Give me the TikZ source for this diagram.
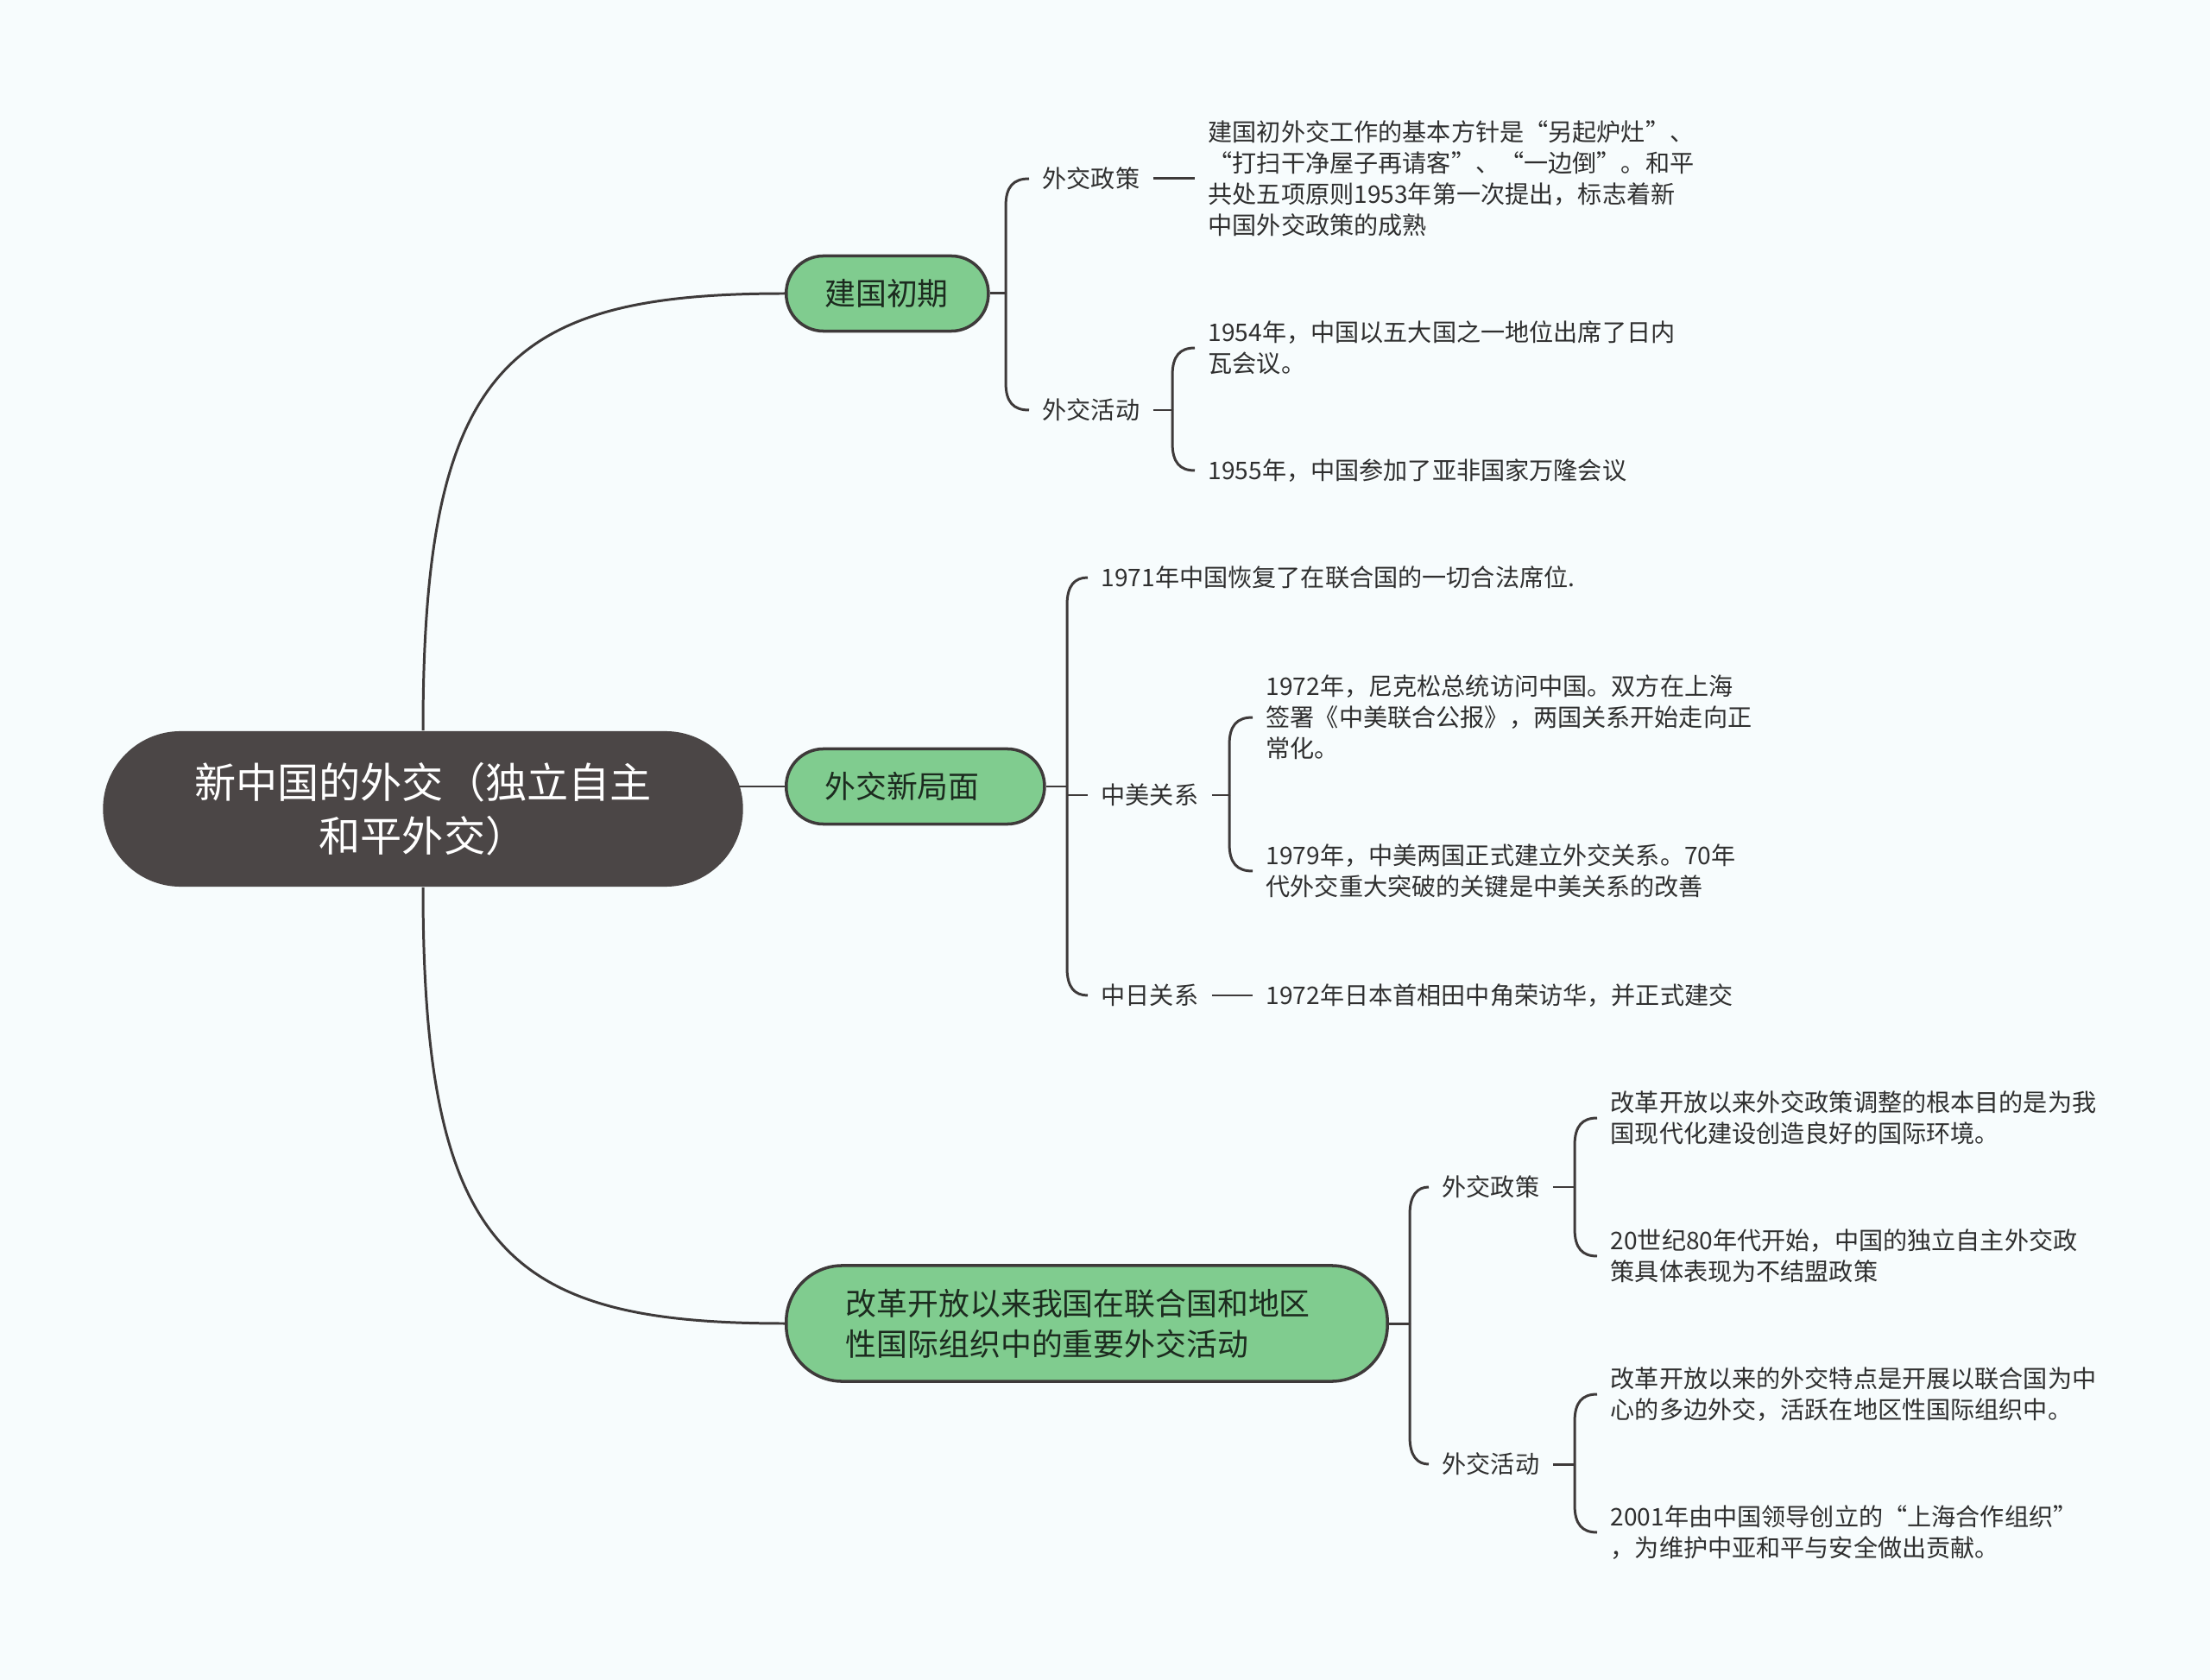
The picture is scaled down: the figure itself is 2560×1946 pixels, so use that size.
\documentclass[tikz,border=0pt]{standalone}
\usepackage{fontspec}
\setmainfont{Noto Sans CJK SC}
\usepackage{xcolor}
\definecolor{paper}{HTML}{F7FCFD}
\definecolor{rootfill}{HTML}{4B4646}
\definecolor{topicfill}{HTML}{80CC8F}
\definecolor{linegray}{HTML}{3E3A3A}
\definecolor{inktext}{HTML}{2F2F2F}
\definecolor{topictext}{HTML}{1C2B1F}
\usetikzlibrary{calc,positioning}

\begin{document}
\begin{tikzpicture}[
		x=0.01cm, y=0.01cm,
		link/.style={draw=linegray, line width=0.85pt},
		rootbox/.style={fill=rootfill, text=white, rounded corners=0.9cm, minimum width=7.41cm, minimum height=1.8cm, align=center, inner sep=0pt, font=\fontsize{13.7}{17.6}\selectfont},
		topic/.style={draw=linegray, line width=1pt, fill=topicfill, text=topictext, anchor=west, align=left, inner xsep=0.445cm, inner ysep=0pt, rounded corners=0.43cm, minimum height=0.87cm, font=\fontsize{10.2}{13.4}\selectfont},
		branch/.style={anchor=west, inner xsep=0.15cm, inner ysep=0pt, text=inktext, font=\fontsize{8}{10.2}\selectfont},
		leaf/.style={branch, align=left}
	]
		% Page
		\fill[paper] (0,0) rectangle (2560,-1946);
		\useasboundingbox (0,0) rectangle (2560,-1946);

		% Root
		\node[rootbox] (r) at (490,-937) {新中国的外交（独立自主\\和平外交）};

		% Main topics
		\node[topic, text width=1.45cm] (n1) at (909,-340) {建国初期};
		\node[topic, text width=2.10cm] (n2) at (909,-911) {外交新局面};
		\node[topic, text width=5.58cm, inner xsep=0.69cm, minimum height=1.34cm, rounded corners=0.65cm] (n3) at (909,-1533) {改革开放以来我国在联合国和地区\\性国际组织中的重要外交活动};

		% Sub topics
		\node[branch] (a1) at (1192,-207) {外交政策};
		\node[branch] (a2) at (1192,-475) {外交活动};
		\node[branch] (b1) at (1260,-669) {1971年中国恢复了在联合国的一切合法席位.};
		\node[branch] (b2) at (1260,-921) {中美关系};
		\node[branch] (b3) at (1260,-1153) {中日关系};
		\node[branch] (c1) at (1655,-1375) {外交政策};
		\node[branch] (c2) at (1655,-1696) {外交活动};

		% Details
		\node[leaf] (p1) at (1384,-207) {建国初外交工作的基本方针是“另起炉灶”、\\“打扫干净屋子再请客”、“一边倒”。和平\\共处五项原则1953年第一次提出，标志着新\\中国外交政策的成熟};
		\node[leaf] (q1) at (1384,-403) {1954年，中国以五大国之一地位出席了日内\\瓦会议。};
		\node[leaf] (q2) at (1384,-545) {1955年，中国参加了亚非国家万隆会议};
		\node[leaf] (s1) at (1451,-831) {1972年，尼克松总统访问中国。双方在上海\\签署《中美联合公报》，两国关系开始走向正\\常化。};
		\node[leaf] (s2) at (1451,-1009) {1979年，中美两国正式建立外交关系。70年\\代外交重大突破的关键是中美关系的改善};
		\node[leaf] (s3) at (1451,-1153) {1972年日本首相田中角荣访华，并正式建交};
		\node[leaf] (t1) at (1850,-1295) {改革开放以来外交政策调整的根本目的是为我\\国现代化建设创造良好的国际环境。};
		\node[leaf] (t2) at (1850,-1455) {20世纪80年代开始，中国的独立自主外交政\\策具体表现为不结盟政策};
		\node[leaf] (u1) at (1850,-1615) {改革开放以来的外交特点是开展以联合国为中\\心的多边外交，活跃在地区性国际组织中。};
		\node[leaf] (u2) at (1850,-1775) {2001年由中国领导创立的“上海合作组织”\\，为维护中亚和平与安全做出贡献。};

		% Root curves
		\draw[link] (r.north) .. controls (490,-424) and (588,-340) .. (n1.west);
		\draw[link] (r.south) .. controls (490,-1450) and (588,-1533) .. (n3.west);
		\draw[link] ($(r.east |- n2.west)+(-5,0)$) -- (n2.west);

		% Brace junctions
		\coordinate (j1) at (1165,-340);
		\coordinate (j2) at (1236,-911);
		\coordinate (j3) at (1633,-1533);
		\coordinate (j4) at (1358,-475);
		\coordinate (j5) at (1424,-921);
		\coordinate (j6) at (1824,-1375);
		\coordinate (j7) at (1824,-1696);
		\draw[link] (n1.east) -- (j1);
		\draw[link] (n2.east) -- (j2);
		\draw[link] (n3.east) -- (j3);
		\draw[link] (a2.east) -- (j4);
		\draw[link] (b2.east) -- (j5);
		\draw[link] (c1.east) -- (j6);
		\draw[link] (c2.east) -- (j7);

		% Braces
		\foreach \j/\c/\o/\p in {j1/a1/-32/-9, j1/a2/32/9, j2/b1/-32/-9, j2/b3/32/9, j3/c1/-32/-9, j3/c2/32/9,
				j4/q1/-32/-9, j4/q2/32/9, j5/s1/-32/-9, j5/s2/32/9, j6/t1/-32/-9, j6/t2/32/9, j7/u1/-32/-9, j7/u2/32/9} {
			\draw[link] (\j) -- ($(\j |- \c.west)+(0,\o)$) .. controls ($(\j |- \c.west)+(0,\p)$) and ($(\j |- \c.west)+(9,0)$) .. (\c.west);
		}
		\draw[link] (j2 |- b2.west) -- (b2.west);

		% Straight links
		\draw[link] (a1.east) -- (p1.west);
		\draw[link] (b3.east) -- (s3.west);
	\end{tikzpicture}
\end{document}
